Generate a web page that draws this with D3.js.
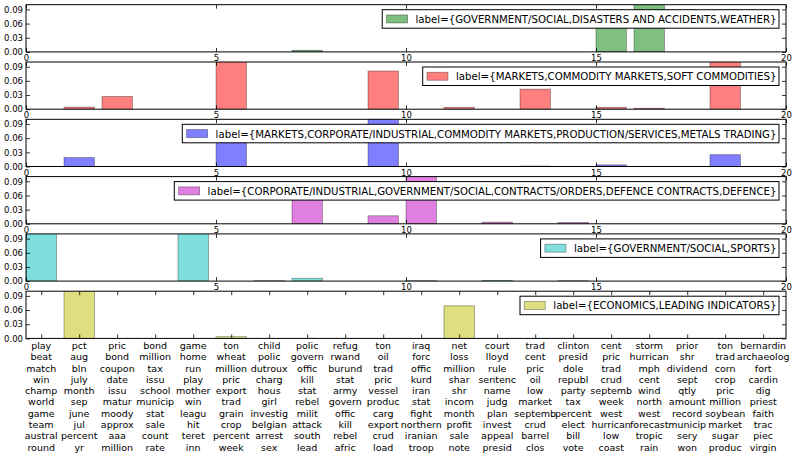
<!DOCTYPE html>
<html>
<head>
<meta charset="utf-8">
<script src="https://cdn.jsdelivr.net/npm/d3@7"></script>
<style>
  html, body { margin: 0; padding: 0; background: #fff; }
  svg { display: block; font-family: "DejaVu Sans", sans-serif; }
</style>
</head>
<body>
<svg id="chart" width="797" height="460"></svg>
<script>
// ---------------- data ----------------
const labels = [
  "label={GOVERNMENT/SOCIAL,DISASTERS AND ACCIDENTS,WEATHER}",
  "label={MARKETS,COMMODITY MARKETS,SOFT COMMODITIES}",
  "label={MARKETS,CORPORATE/INDUSTRIAL,COMMODITY MARKETS,PRODUCTION/SERVICES,METALS TRADING}",
  "label={CORPORATE/INDUSTRIAL,GOVERNMENT/SOCIAL,CONTRACTS/ORDERS,DEFENCE CONTRACTS,DEFENCE}",
  "label={GOVERNMENT/SOCIAL,SPORTS}",
  "label={ECONOMICS,LEADING INDICATORS}"
];
const colors = ["#008000", "#ff0000", "#0000ff", "#bf00bf", "#00bfbf", "#bfbf00"];

const disasters = [0,0,0,0,0,0,0,0.0035,0,0,0,0,0,0,0,0.07,0.15,0,0,0];
const softComm  = [0,0.0045,0.027,0,0,0.12,0,0,0,0.081,0,0.004,0,0.0425,0,0.004,0.002,0,0.105,0];
const metals    = [0,0.019,0,0,0,0.07,0,0,0,0.12,0,0,0,0.001,0,0.0035,0,0,0.025,0];
const defence   = [0,0,0,0,0,0,0,0.06,0,0.017,0.11,0,0.0036,0,0.003,0,0,0,0,0];
const sports    = [0.12,0,0,0,0.11,0,0.001,0.006,0,0,0.001,0,0.0015,0,0.001,0,0,0,0,0];
const economics = [0,0.15,0,0,0,0.0036,0,0,0,0,0,0.069,0,0,0,0,0,0,0,0];
const series = [disasters, softComm, metals, defence, sports, economics];

const xTicks = [0, 5, 10, 15, 20];
const yTicks = [0, 0.03, 0.06, 0.09];

const topicWords = [
  ["play","beat","match","win","champ","world","game","team","austral","round"],
  ["pct","aug","bln","july","month","sep","june","jul","percent","yr"],
  ["pric","bond","coupon","date","issu","matur","moody","approx","aaa","million"],
  ["bond","million","tax","issu","school","municip","stat","sale","count","rate"],
  ["game","home","run","play","mother","win","leagu","hit","teret","inn"],
  ["ton","wheat","million","pric","export","trad","grain","crop","percent","week"],
  ["child","polic","dutroux","charg","hous","girl","investig","belgian","arrest","sex"],
  ["polic","govern","offic","kill","stat","rebel","milit","attack","south","lead"],
  ["refug","rwand","burund","stat","army","govern","offic","kill","rebel","afric"],
  ["ton","oil","trad","pric","vessel","produc","carg","export","crud","load"],
  ["iraq","forc","offic","kurd","iran","stat","fight","northern","iranian","troop"],
  ["net","loss","million","shar","shr","incom","month","profit","sale","note"],
  ["court","lloyd","rule","sentenc","name","judg","plan","invest","appeal","presid"],
  ["trad","cent","pric","oil","low","market","septemb","crud","barrel","clos"],
  ["clinton","presid","dole","republ","party","tax","percent","elect","bill","vote"],
  ["cent","pric","trad","crud","septemb","week","west","hurrican","low","coast"],
  ["storm","hurrican","mph","cent","wind","north","west","forecast","tropic","rain"],
  ["prior","shr","dividend","sept","qtly","amount","record","municip","sery","won"],
  ["ton","trad","corn","crop","pric","million","soybean","market","sugar","produc"],
  ["bernardin","archaeolog","fort","cardin","dig","priest","faith","trac","piec","virgin"]
];

// ---------------- layout ----------------
const svg = d3.select("#chart");
const X0 = 26, X1 = 786;
const panelTop0 = 4.7, panelStep = 57.3, panelH = 47.2;
const barW = 0.8;

const x = d3.scaleLinear().domain([0, 20]).range([X0, X1]);

series.forEach((vals, p) => {
  const top = panelTop0 + p * panelStep;
  const bottom = top + panelH;
  const y = d3.scaleLinear().domain([0, 0.1]).range([bottom, top]);
  const g = svg.append("g");

  const clipId = "clip" + p;
  svg.append("clipPath").attr("id", clipId)
    .append("rect").attr("x", X0).attr("y", top).attr("width", X1 - X0).attr("height", panelH);

  // bars
  g.append("g").attr("clip-path", `url(#${clipId})`)
    .selectAll("rect").data(vals.map((v, i) => ({i, v})).filter(d => d.v > 0))
    .join("rect")
    .attr("x", d => x(d.i))
    .attr("width", d => x(d.i + barW) - x(d.i))
    .attr("y", d => y(d.v))
    .attr("height", d => y(0) - y(d.v))
    .attr("fill", colors[p]).attr("fill-opacity", 0.5)
    .attr("stroke", "#000").attr("stroke-opacity", 0.4).attr("stroke-width", 0.8);

  const last = p === series.length - 1;
  const tickVals = last ? d3.range(20).map(i => i + 0.4) : xTicks;

  // bottom axis
  const bAxis = d3.axisBottom(x).tickValues(tickVals).tickSize(-4).tickPadding(3)
    .tickFormat(last ? "" : d3.format("d"));
  const bg = g.append("g").attr("transform", `translate(0,${bottom})`).call(bAxis);
  // top axis (ticks only)
  const tg = g.append("g").attr("transform", `translate(0,${top})`)
    .call(d3.axisTop(x).tickValues(tickVals).tickSize(-4).tickFormat(""));
  // left axis
  const lg = g.append("g").attr("transform", `translate(${X0},0)`)
    .call(d3.axisLeft(y).tickValues(yTicks).tickSize(-4).tickPadding(3).tickFormat(d3.format(".2f")));
  // right axis (ticks only)
  const rg = g.append("g").attr("transform", `translate(${X1},0)`)
    .call(d3.axisRight(y).tickValues(yTicks).tickSize(-4).tickFormat(""));

  [bg, tg, lg, rg].forEach(a => {
    a.select(".domain").remove();
    a.selectAll(".tick line").attr("stroke", "#000").attr("stroke-width", 0.8);
    a.selectAll("text").attr("font-size", 8.5).attr("fill", "#000")
      .attr("font-family", "DejaVu Sans");
  });

  // frame
  g.append("rect").attr("x", X0).attr("y", top).attr("width", X1 - X0).attr("height", panelH)
    .attr("fill", "none").attr("stroke", "#000").attr("stroke-width", 1);

  // legend
  const lgG = g.append("g");
  const lTop = top + 5, lH = 18.5;
  const txt = lgG.append("text").text(labels[p])
    .attr("font-size", 10.2).attr("fill", "#000").attr("font-family", "DejaVu Sans")
    .attr("dominant-baseline", "central");
  const tw = txt.node().getComputedTextLength();
  const boxW = 4.3 + 21 + 8 + tw + 2.5;
  const lLeft = X1 - 7 - boxW;
  lgG.insert("rect", "text").attr("x", lLeft).attr("y", lTop).attr("width", boxW).attr("height", lH)
    .attr("fill", "#fff").attr("stroke", "#000").attr("stroke-width", 1);
  lgG.insert("rect", "text").attr("x", lLeft + 4.3).attr("y", lTop + lH / 2 - 4).attr("width", 21).attr("height", 8)
    .attr("fill", colors[p]).attr("fill-opacity", 0.5)
    .attr("stroke", "#000").attr("stroke-opacity", 0.4).attr("stroke-width", 0.8);
  txt.attr("x", lLeft + 4.3 + 21 + 8).attr("y", lTop + lH / 2 + 0.5);

  // topic word labels under the last panel
  if (last) {
    const wg = g.append("g");
    topicWords.forEach((words, i) => {
      wg.selectAll(null).data(words).join("text")
        .attr("x", x(i + 0.4))
        .attr("y", (d, j) => bottom + 10.5 + j * 11.3)
        .attr("text-anchor", "middle")
        .attr("font-size", 9.5).attr("fill", "#000")
        .text(d => d);
    });
  }
});
</script>
</body>
</html>
